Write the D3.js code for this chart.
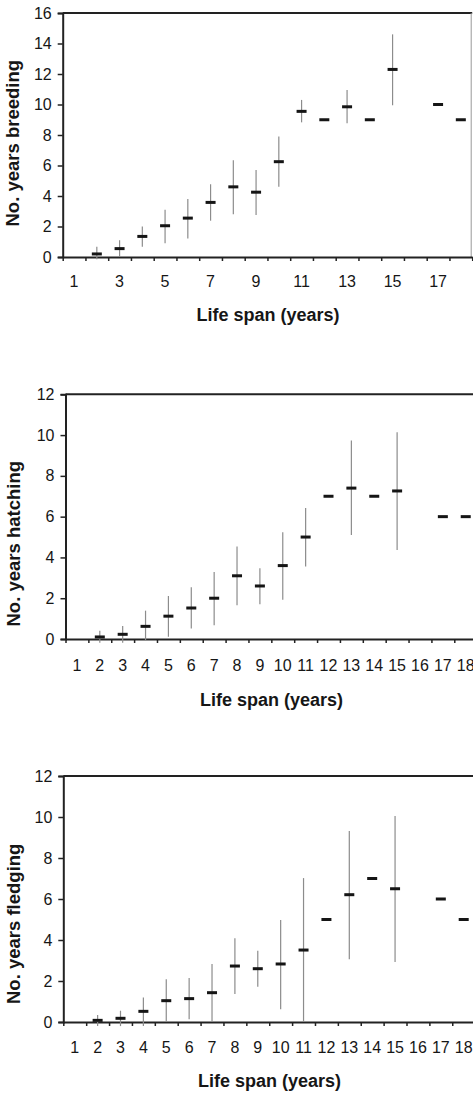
<!DOCTYPE html>
<html>
<head>
<meta charset="utf-8">
<script src="https://cdn.jsdelivr.net/npm/d3@7/dist/d3.min.js"></script>
<style>
  html, body { margin: 0; padding: 0; background: #fff; }
  svg { display: block; }
  text { font-family: "Liberation Sans", Arial, sans-serif; fill: #161616; }
</style>
</head>
<body>
<svg id="chart" width="473" height="1094"></svg>
<script>
// Life span categories (years)
const lifeSpan = [1, 2, 3, 4, 5, 6, 7, 8, 9, 10, 11, 12, 13, 14, 15, 16, 17, 18];

// Number of years breeding: mean and range of each life-span class
const breedingMean = [null, 0.2, 0.55, 1.35, 2.05, 2.55, 3.58, 4.6, 4.25, 6.25, 9.55, 9, 9.85, 9, 12.3, null, 10, 9];
const breedingLow  = [null, -0.15, 0, 0.67, 0.9, 1.22, 2.38, 2.8, 2.75, 4.6, 8.83, null, 8.77, null, 9.95, null, null, null];
const breedingHigh = [null, 0.67, 1.1, 2.0, 3.1, 3.8, 4.77, 6.35, 5.7, 7.9, 10.3, null, 10.95, null, 14.6, null, null, null];

// Number of years hatching
const hatchingMean = [null, 0.1, 0.23, 0.62, 1.12, 1.52, 2.0, 3.1, 2.6, 3.6, 5.0, 7, 7.4, 7, 7.26, null, 6, 6];
const hatchingLow  = [null, -0.18, -0.18, -0.05, 0.11, 0.51, 0.67, 1.65, 1.7, 1.92, 3.55, null, 5.1, null, 4.37, null, null, null];
const hatchingHigh = [null, 0.41, 0.64, 1.39, 2.11, 2.54, 3.29, 4.54, 3.47, 5.24, 6.42, null, 9.73, null, 10.14, null, null, null];

// Number of years fledging
const fledgingMean = [null, 0.08, 0.18, 0.52, 1.04, 1.14, 1.43, 2.73, 2.6, 2.83, 3.51, 5, 6.21, 7, 6.5, null, 6, 5];
const fledgingLow  = [null, -0.2, -0.2, -0.2, 0, 0.13, 0, 1.37, 1.72, 0.62, 0, null, 3.06, null, 2.93, null, null, null];
const fledgingHigh = [null, 0.34, 0.55, 1.2, 2.08, 2.15, 2.83, 4.08, 3.48, 4.98, 7.02, null, 9.32, null, 10.05, null, null, null];

// Axis tick labels
const yTicksBreeding = [0, 2, 4, 6, 8, 10, 12, 14, 16];
const yTicksTwelve = [0, 2, 4, 6, 8, 10, 12];
const xLabelsOdd = [1, 3, 5, 7, 9, 11, 13, 15, 17];
const xLabelsAll = lifeSpan;

const yTitles = ["No. years breeding", "No. years hatching", "No. years fledging"];
const xTitle = "Life span (years)";

const svg = d3.select("#chart");

const panels = [
  { mean: breedingMean, low: breedingLow, high: breedingHigh, yMax: 16, yTicks: yTicksBreeding,
    xLabels: xLabelsOdd, title: yTitles[0],
    left: 62.7, step: 22.75, top: 13, bottom: 257,
    titleX: 18.5, titleStart: 226.5, xTitleX: 268, xTitleY: 321, xTickY: 286.5 },
  { mean: hatchingMean, low: hatchingLow, high: hatchingHigh, yMax: 12, yTicks: yTicksTwelve,
    xLabels: xLabelsAll, title: yTitles[1],
    left: 65.5, step: 22.87, top: 394.3, bottom: 639,
    titleX: 20, titleStart: 626.5, xTitleX: 271.5, xTitleY: 705.5, xTickY: 670.5 },
  { mean: fledgingMean, low: fledgingLow, high: fledgingHigh, yMax: 12, yTicks: yTicksTwelve,
    xLabels: xLabelsAll, title: yTitles[2],
    left: 63.3, step: 22.88, top: 776, bottom: 1022,
    titleX: 20, titleStart: 1004, xTitleX: 269.5, xTitleY: 1086.5, xTickY: 1052.5 }
];

panels.forEach(p => {
  const g = svg.append("g");
  const right = p.left + lifeSpan.length * p.step;

  // Linear x scale: each life-span class centred on its integer value
  const x = d3.scaleLinear().domain([0.5, lifeSpan.length + 0.5]).range([p.left, right]);
  const y = d3.scaleLinear().domain([0, p.yMax]).range([p.bottom, p.top]);

  // Frame: top border and right border
  g.append("line").attr("x1", p.left).attr("x2", right).attr("y1", y(p.yMax)).attr("y2", y(p.yMax))
    .attr("stroke", "#222").attr("stroke-width", 2);
  g.append("line").attr("x1", right - 1).attr("x2", right - 1).attr("y1", y(p.yMax)).attr("y2", y(0))
    .attr("stroke", "#999").attr("stroke-width", 1);

  // Y axis
  const yAxis = g.append("g").attr("transform", `translate(${p.left},0)`)
    .call(d3.axisLeft(y).tickValues(p.yTicks).tickSize(5).tickPadding(6).tickFormat(d3.format("d")));
  yAxis.select(".domain").attr("stroke", "#222").attr("stroke-width", 2);
  yAxis.selectAll(".tick line").attr("stroke", "#222").attr("stroke-width", 1.5);
  yAxis.selectAll(".tick text").attr("font-size", 16).attr("fill", "#161616")
    .attr("font-family", "'Liberation Sans', Arial, sans-serif");

  // X axis line with class-boundary ticks
  const boundaries = d3.range(0, lifeSpan.length + 1).map(i => i + 0.5);
  const xAxis = g.append("g").attr("transform", `translate(0,${p.bottom})`)
    .call(d3.axisBottom(x).tickValues(boundaries).tickSize(4).tickSizeOuter(0).tickFormat(""));
  xAxis.select(".domain").attr("stroke", "#222").attr("stroke-width", 2);
  xAxis.selectAll(".tick line").attr("stroke", "#222").attr("stroke-width", 1.5);

  // Category labels centred in each class
  g.selectAll(".xlab").data(p.xLabels).enter().append("text")
    .attr("class", "xlab")
    .attr("x", d => x(d)).attr("y", p.xTickY)
    .attr("text-anchor", "middle").attr("font-size", 16)
    .text(d => d);

  // Axis titles
  g.append("text")
    .attr("transform", `translate(${p.titleX},${p.titleStart}) rotate(-90)`)
    .attr("text-anchor", "start").attr("font-size", 18.5).attr("font-weight", "bold")
    .text(p.title);
  g.append("text")
    .attr("x", p.xTitleX).attr("y", p.xTitleY)
    .attr("text-anchor", "middle").attr("font-size", 18).attr("font-weight", "bold")
    .text(xTitle);

  const rows = lifeSpan.map((d, i) => ({ span: d, mean: p.mean[i], low: p.low[i], high: p.high[i] }));

  // Range bars
  g.selectAll(".range").data(rows.filter(r => r.low !== null && r.high !== null)).enter().append("line")
    .attr("class", "range")
    .attr("x1", r => x(r.span)).attr("x2", r => x(r.span))
    .attr("y1", r => y(r.low)).attr("y2", r => y(r.high))
    .attr("stroke", "#8c8c8c").attr("stroke-width", 1.2);

  // Mean markers
  g.selectAll(".mean").data(rows.filter(r => r.mean !== null)).enter().append("rect")
    .attr("class", "mean")
    .attr("x", r => x(r.span) - 5).attr("y", r => y(r.mean) - 1.5)
    .attr("width", 10).attr("height", 3)
    .attr("fill", "#151515");
});
</script>
</body>
</html>
